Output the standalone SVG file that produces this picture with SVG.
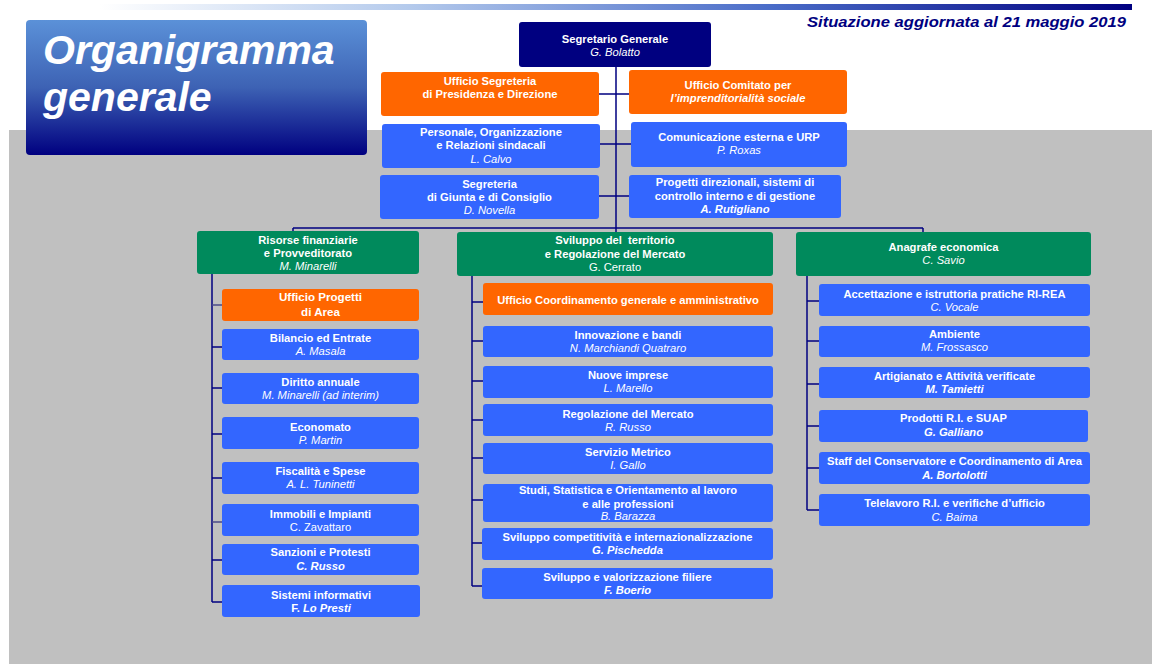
<svg xmlns="http://www.w3.org/2000/svg" width="1152" height="664" viewBox="0 0 1152 664">
<defs>
<linearGradient id="bar" x1="0" y1="0" x2="1" y2="0">
<stop offset="0" stop-color="#FFFFFF"/>
<stop offset="0.3" stop-color="#B4CAEC"/>
<stop offset="0.65" stop-color="#4A6CC8"/>
<stop offset="1" stop-color="#000080"/>
</linearGradient>
<linearGradient id="title" x1="0" y1="0" x2="0" y2="1">
<stop offset="0" stop-color="#5B91D8"/>
<stop offset="0.5" stop-color="#3D62B4"/>
<stop offset="1" stop-color="#000080"/>
</linearGradient>
<style>
text{font-family:"Liberation Sans",Arial,sans-serif;font-size:11.2px;fill:#FFFFFF;text-anchor:middle}
.h{font-weight:bold}
.i{font-style:italic}
.bi{font-weight:bold;font-style:italic}
.nv{fill:#000080}
.bl{fill:#3366FF}
.or{fill:#FF6600}
.gr{fill:#008A5C}
.ln{stroke:#000080;stroke-width:1.5;fill:none}
.lg{stroke:#4A4A88;stroke-width:1.3;fill:none}
</style>
</defs>
<rect x="0" y="0" width="1152" height="664" fill="#FFFFFF"/>
<rect x="9" y="130" width="1143" height="534" fill="#C0C0C0"/>
<rect x="100" y="4" width="1032" height="6" fill="url(#bar)"/>
<g id="title-box">
<rect x="26" y="20" width="341" height="135" rx="4" fill="url(#title)"/>
<text x="43" y="64" style="font-size:41px;font-weight:bold;font-style:italic;text-anchor:start">Organigramma</text>
<text x="43" y="111" style="font-size:41px;font-weight:bold;font-style:italic;text-anchor:start">generale</text>
</g>
<text x="807" y="27" textLength="319" lengthAdjust="spacingAndGlyphs" style="font-size:15px;font-weight:bold;font-style:italic;fill:#000080;text-anchor:start">Situazione aggiornata al 21 maggio 2019</text>

<g id="connectors">
<path class="ln" d="M616 67V228M599 94H629M600 144H631M599 196H629M293 228H923M293 228V231M616 228V232M923 228V232"/>
<path class="ln" d="M212 274V602M212 347H222M212 388H222M212 434H222M212 478H222M212 560H222M212 602H222"/>
<path class="lg" d="M212 305H222M212 522H222"/>
<path class="ln" d="M472 276V586M472 302H483M472 341H483M472 381H483M472 420H483M472 458H483M472 500H483M472 543H482M472 586H482"/>
<path class="ln" d="M807 276V510M807 301H819M807 341H819M807 384H819M807 426H819M807 468H819M807 510H819"/>
</g>

<g id="segretario-generale"><rect class="nv" x="519" y="22" width="192" height="45" rx="3"/><text x="615" y="42.5"><tspan class="h">Segretario Generale</tspan><tspan class="i" x="615" y="55.5">G. Bolatto</tspan></text></g>
<g id="ufficio-segreteria"><rect class="or" x="381" y="72" width="218" height="44" rx="3"/><text x="490" y="85"><tspan class="h">Ufficio Segreteria</tspan><tspan class="h" x="490" y="98">di Presidenza e Direzione</tspan></text></g>
<g id="ufficio-comitato"><rect class="or" x="629" y="70" width="218" height="44" rx="3"/><text x="738" y="88.5"><tspan class="h">Ufficio Comitato per</tspan><tspan class="bi" x="738" y="101.5">l’imprenditorialità sociale</tspan></text></g>
<g id="personale"><rect class="bl" x="382" y="124" width="218" height="44" rx="3"/><text x="491" y="136"><tspan class="h">Personale, Organizzazione</tspan><tspan class="h" x="491" y="149">e Relazioni sindacali</tspan><tspan class="i" x="491" y="162.5">L. Calvo</tspan></text></g>
<g id="comunicazione"><rect class="bl" x="631" y="122" width="216" height="45" rx="3"/><text x="739" y="141"><tspan class="h">Comunicazione esterna e URP</tspan><tspan class="i" x="739" y="154">P. Roxas</tspan></text></g>
<g id="segreteria-giunta"><rect class="bl" x="380" y="175" width="219" height="44" rx="3"/><text x="489.5" y="187.5"><tspan class="h">Segreteria</tspan><tspan class="h" x="489.5" y="200.5">di Giunta e di Consiglio</tspan><tspan class="i" x="489.5" y="213.5">D. Novella</tspan></text></g>
<g id="progetti-direzionali"><rect class="bl" x="629" y="175" width="212" height="43" rx="3"/><text x="735" y="186"><tspan class="h">Progetti direzionali, sistemi di</tspan><tspan class="h" x="735" y="199.5">controllo interno e di gestione</tspan><tspan class="bi" x="735" y="212.5">A. Rutigliano</tspan></text></g>

<g id="risorse-finanziarie"><rect class="gr" x="197" y="231" width="222" height="43" rx="3"/><text x="308" y="243.5"><tspan class="h">Risorse finanziarie</tspan><tspan class="h" x="308" y="256.5">e Provveditorato</tspan><tspan class="i" x="308" y="269.5">M. Minarelli</tspan></text></g>
<g id="sviluppo-territorio"><rect class="gr" x="457" y="232" width="316" height="44" rx="3"/><text x="615" y="244" style="white-space:pre"><tspan class="h">Sviluppo del  territorio</tspan><tspan class="h" x="615" y="257.5">e Regolazione del Mercato</tspan><tspan x="615" y="270.5">G. Cerrato</tspan></text></g>
<g id="anagrafe-economica"><rect class="gr" x="796" y="232" width="295" height="44" rx="3"/><text x="943.5" y="251"><tspan class="h">Anagrafe economica</tspan><tspan class="i" x="943.5" y="264">C. Savio</tspan></text></g>

<g id="ufficio-progetti-area"><rect class="or" x="222" y="289" width="197" height="32" rx="3"/><text x="320.5" y="301" style="font-size:11.6px"><tspan class="h">Ufficio Progetti</tspan><tspan class="h" x="320.5" y="315.5">di Area</tspan></text></g>
<g id="bilancio"><rect class="bl" x="222" y="329" width="197" height="31" rx="3"/><text x="320.5" y="341.5"><tspan class="h">Bilancio ed Entrate</tspan><tspan class="i" x="320.5" y="355">A. Masala</tspan></text></g>
<g id="diritto-annuale"><rect class="bl" x="222" y="373" width="197" height="31" rx="3"/><text x="320.5" y="385.5"><tspan class="h">Diritto annuale</tspan><tspan class="i" x="320.5" y="399">M. Minarelli (ad interim)</tspan></text></g>
<g id="economato"><rect class="bl" x="222" y="417" width="197" height="32" rx="3"/><text x="320.5" y="430.5"><tspan class="h">Economato</tspan><tspan class="i" x="320.5" y="444">P. Martin</tspan></text></g>
<g id="fiscalita"><rect class="bl" x="222" y="462" width="197" height="32" rx="3"/><text x="320.5" y="474.5"><tspan class="h">Fiscalità e Spese</tspan><tspan class="i" x="320.5" y="488">A. L. Tuninetti</tspan></text></g>
<g id="immobili"><rect class="bl" x="222" y="504" width="197" height="32" rx="3"/><text x="320.5" y="517.5"><tspan class="h">Immobili e Impianti</tspan><tspan x="320.5" y="530.5">C. Zavattaro</tspan></text></g>
<g id="sanzioni"><rect class="bl" x="222" y="544" width="197" height="31" rx="3"/><text x="320.5" y="556"><tspan class="h">Sanzioni e Protesti</tspan><tspan class="bi" x="320.5" y="570">C. Russo</tspan></text></g>
<g id="sistemi-informativi"><rect class="bl" x="222" y="585" width="198" height="32" rx="3"/><text x="321" y="598.5"><tspan class="h">Sistemi informativi</tspan><tspan class="h" x="321" y="612">F. <tspan class="bi">Lo Presti</tspan></tspan></text></g>

<g id="ufficio-coordinamento"><rect class="or" x="483" y="283" width="290" height="32" rx="3"/><text x="628" y="303.5" class="h">Ufficio Coordinamento generale e amministrativo</text></g>
<g id="innovazione"><rect class="bl" x="483" y="326" width="290" height="31" rx="3"/><text x="628" y="339"><tspan class="h">Innovazione e bandi</tspan><tspan class="i" x="628" y="352">N. Marchiandi Quatraro</tspan></text></g>
<g id="nuove-imprese"><rect class="bl" x="483" y="366" width="290" height="32" rx="3"/><text x="628" y="379"><tspan class="h">Nuove imprese</tspan><tspan class="i" x="628" y="392">L. Marello</tspan></text></g>
<g id="regolazione-mercato"><rect class="bl" x="483" y="404" width="290" height="32" rx="3"/><text x="628" y="417.5"><tspan class="h">Regolazione del Mercato</tspan><tspan class="i" x="628" y="430.5">R. Russo</tspan></text></g>
<g id="servizio-metrico"><rect class="bl" x="483" y="443" width="290" height="31" rx="3"/><text x="628" y="456"><tspan class="h">Servizio Metrico</tspan><tspan class="i" x="628" y="469">I. Gallo</tspan></text></g>
<g id="studi-statistica"><rect class="bl" x="483" y="484" width="290" height="38" rx="3"/><text x="628" y="494"><tspan class="h">Studi, Statistica e Orientamento al lavoro</tspan><tspan class="h" x="628" y="507.5">e alle professioni</tspan><tspan class="i" x="628" y="520">B. Barazza</tspan></text></g>
<g id="sviluppo-competitivita"><rect class="bl" x="482" y="528" width="291" height="32" rx="3"/><text x="627.5" y="541"><tspan class="h">Sviluppo competitività e internazionalizzazione</tspan><tspan class="bi" x="627.5" y="554">G. Pischedda</tspan></text></g>
<g id="sviluppo-filiere"><rect class="bl" x="482" y="568" width="291" height="31" rx="3"/><text x="627.5" y="581"><tspan class="h">Sviluppo e valorizzazione filiere</tspan><tspan class="bi" x="627.5" y="594">F. Boerio</tspan></text></g>

<g id="accettazione"><rect class="bl" x="819" y="284" width="271" height="32" rx="3"/><text x="954.5" y="298"><tspan class="h">Accettazione e istruttoria pratiche RI-REA</tspan><tspan class="i" x="954.5" y="310.5">C. Vocale</tspan></text></g>
<g id="ambiente"><rect class="bl" x="819" y="326" width="271" height="31" rx="3"/><text x="954.5" y="338"><tspan class="h">Ambiente</tspan><tspan class="i" x="954.5" y="350.5">M. Frossasco</tspan></text></g>
<g id="artigianato"><rect class="bl" x="819" y="367" width="271" height="31" rx="3"/><text x="954.5" y="380"><tspan class="h">Artigianato e Attività verificate</tspan><tspan class="bi" x="954.5" y="392.5">M. Tamietti</tspan></text></g>
<g id="prodotti-ri"><rect class="bl" x="819" y="410" width="269" height="32" rx="3"/><text x="953.5" y="422"><tspan class="h">Prodotti R.I. e SUAP</tspan><tspan class="bi" x="953.5" y="436">G. Galliano</tspan></text></g>
<g id="staff-conservatore"><rect class="bl" x="819" y="452" width="271" height="32" rx="3"/><text x="954.5" y="464.5"><tspan class="h">Staff del Conservatore e Coordinamento di Area</tspan><tspan class="bi" x="954.5" y="478.5">A. Bortolotti</tspan></text></g>
<g id="telelavoro"><rect class="bl" x="819" y="494" width="271" height="32" rx="3"/><text x="954.5" y="507"><tspan class="h">Telelavoro R.I. e verifiche d’ufficio</tspan><tspan class="i" x="954.5" y="521">C. Baima</tspan></text></g>
</svg>
